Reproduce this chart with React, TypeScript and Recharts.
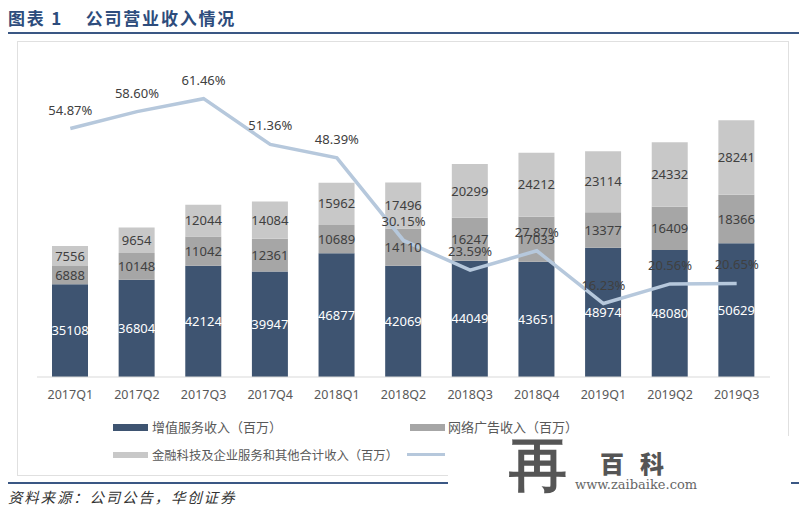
import React from "react";
import { ComposedChart, Bar, Line, XAxis, YAxis, LabelList } from "recharts";

const quarters = ["2017Q1", "2017Q2", "2017Q3", "2017Q4", "2018Q1", "2018Q2", "2018Q3", "2018Q4", "2019Q1", "2019Q2", "2019Q3"];
const vasRevenue = [35108, 36804, 42124, 39947, 46877, 42069, 44049, 43651, 48974, 48080, 50629];
const adRevenue = [6888, 10148, 11042, 12361, 10689, 14110, 16247, 17033, 13377, 16409, 18366];
const finRevenue = [7556, 9654, 12044, 14084, 15962, 17496, 20299, 24212, 23114, 24332, 28241];
const ratio = [54.87, 58.6, 61.46, 51.36, 48.39, 30.15, 23.59, 27.87, 16.23, 20.56, 20.65];

const seriesNames = ["增值服务收入（百万）", "网络广告收入（百万）", "金融科技及企业服务和其他合计收入（百万）"];

const data = quarters.map((q, i) => ({
  q,
  vas: vasRevenue[i],
  ad: adRevenue[i],
  fin: finRevenue[i],
  ratio: ratio[i],
}));

const C_DARK = "#3E5471";
const C_MID = "#A6A6A6";
const C_LIGHT = "#C8C8C8";
const C_LINE = "#B6C8DC";
const NUM_FONT = "'Noto Sans', 'Open Sans', sans-serif";
const CJK_FONT = "'Noto Sans CJK SC', sans-serif";

export default function App() {
  return (
    <div style={{ position: "absolute", left: 0, top: 0, width: 801, height: 507, background: "#fff", overflow: "hidden" }}>
      {/* title */}
      <div style={{ position: "absolute", left: 8, top: 5, fontFamily: CJK_FONT, fontSize: 17, fontWeight: 700, color: "#2D4C7C", letterSpacing: 1.8, whiteSpace: "pre" }}>
        {"图表 1    公司营业收入情况"}
      </div>
      <div style={{ position: "absolute", left: 8, top: 32, width: 791, height: 2, background: "#3A5784" }} />
      {/* frame */}
      <div style={{ position: "absolute", left: 17, top: 41, width: 772, height: 435, border: "1px solid #E0E0E0", boxSizing: "border-box" }} />

      <div style={{ position: "absolute", left: 0, top: 0 }}>
        <ComposedChart width={801} height={507} data={data} margin={{ top: 60, right: 31, bottom: 100, left: 37 }} barSize={36}>
          <XAxis
            dataKey="q"
            height={30}
            tickLine={false}
            axisLine={{ stroke: "#D9D9D9" }}
            tick={{ fill: "#595959", fontSize: 12.5, fontFamily: NUM_FONT }}
            tickMargin={7}
            interval={0}
          />
          <YAxis yAxisId="l" hide domain={[0, 120000]} />
          <YAxis yAxisId="r" hide orientation="right" domain={[0, 70]} />
          <Bar yAxisId="l" dataKey="vas" stackId="s" fill={C_DARK} isAnimationActive={false}>
            <LabelList dataKey="vas" position="center" fill="#FFFFFF" fontSize={13} fontFamily={NUM_FONT} />
          </Bar>
          <Bar yAxisId="l" dataKey="ad" stackId="s" fill={C_MID} isAnimationActive={false}>
            <LabelList dataKey="ad" position="center" fill="#404040" fontSize={13} fontFamily={NUM_FONT} />
          </Bar>
          <Bar yAxisId="l" dataKey="fin" stackId="s" fill={C_LIGHT} isAnimationActive={false}>
            <LabelList dataKey="fin" position="center" fill="#404040" fontSize={13} fontFamily={NUM_FONT} />
          </Bar>
          <Line yAxisId="r" dataKey="ratio" stroke={C_LINE} strokeWidth={3.5} dot={false} activeDot={false} isAnimationActive={false}>
            <LabelList
              dataKey="ratio"
              position="top"
              offset={14}
              fill="#404040"
              fontSize={13}
              fontFamily={NUM_FONT}
              formatter={(v: any) => `${Number(v).toFixed(2)}%`}
            />
          </Line>
        </ComposedChart>
      </div>

      {/* legend */}
      <div style={{ position: "absolute", left: 113, top: 424, width: 35, height: 7, background: C_DARK }} />
      <div style={{ position: "absolute", left: 152, top: 418, fontFamily: CJK_FONT, fontSize: 13, color: "#595959", whiteSpace: "nowrap", lineHeight: "18px" }}>{seriesNames[0]}</div>
      <div style={{ position: "absolute", left: 410, top: 424, width: 35, height: 7, background: C_MID }} />
      <div style={{ position: "absolute", left: 448, top: 418, fontFamily: CJK_FONT, fontSize: 13, color: "#595959", whiteSpace: "nowrap", lineHeight: "18px" }}>{seriesNames[1]}</div>
      <div style={{ position: "absolute", left: 113, top: 452, width: 35, height: 6, background: C_LIGHT }} />
      <div style={{ position: "absolute", left: 152, top: 446, fontFamily: CJK_FONT, fontSize: 12.3, color: "#595959", whiteSpace: "nowrap", lineHeight: "18px" }}>{seriesNames[2]}</div>
      <div style={{ position: "absolute", left: 407, top: 453, width: 38, height: 3, background: C_LINE }} />

      {/* bottom rule and source */}
      <div style={{ position: "absolute", left: 8, top: 482, width: 791, height: 2, background: "#3A5784" }} />
      <div style={{ position: "absolute", left: 8, top: 486, fontFamily: CJK_FONT, fontSize: 14.5, fontStyle: "italic", color: "#333", letterSpacing: 1.8, whiteSpace: "nowrap" }}>
        资料来源：公司公告，华创证券
      </div>

      {/* watermark */}
      <div style={{ position: "absolute", left: 448, top: 436, width: 343, height: 71, background: "#fff" }} />
      <div style={{ position: "absolute", left: 509, top: 430, fontFamily: "'DejaVu Serif', serif", fontSize: 58, fontWeight: 700, color: "#555", lineHeight: "70px" }}>再</div>
      <div style={{ position: "absolute", left: 600, top: 448, fontFamily: CJK_FONT, fontSize: 24, fontWeight: 900, color: "#555", letterSpacing: 16, lineHeight: "30px", whiteSpace: "nowrap" }}>百科</div>
      <div style={{ position: "absolute", left: 575, top: 476, fontFamily: "'DejaVu Serif', serif", fontSize: 13, color: "#666", lineHeight: "18px", whiteSpace: "nowrap" }}>www.zaibaike.com</div>
    </div>
  );
}
